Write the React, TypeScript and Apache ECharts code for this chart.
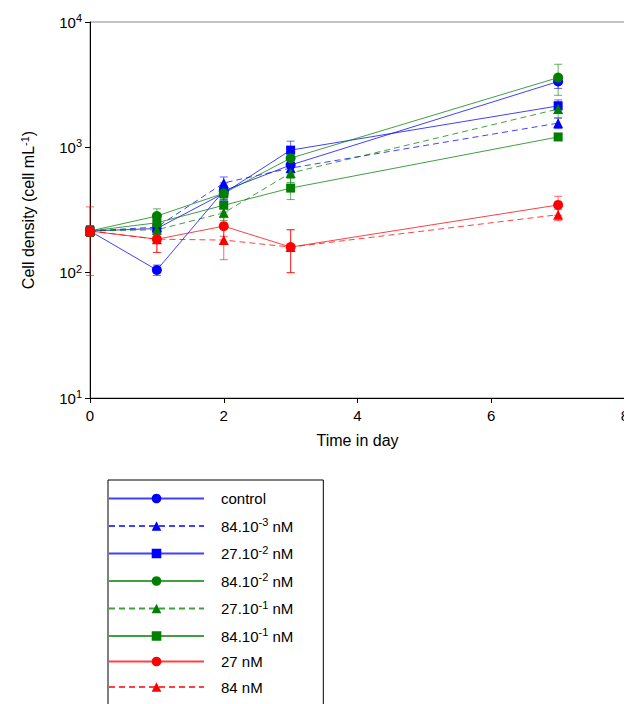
import React, { useEffect, useRef } from "react";
import * as echarts from "echarts";

const days = [0, 1, 2, 3, 7];
const control = [215, 105, 450, 723, 3350];
const c84e3 = [215, 231, 520, 683, 1560];
const c27e2 = [215, 225, 430, 950, 2140];
const c84e2 = [215, 283, 430, 820, 3600];
const c27e1 = [215, 220, 300, 624, 2020];
const c84e1 = [215, 250, 345, 473, 1210];
const c27 = [215, 185, 235, 160, 347];
const c84 = [215, 185, 182, 160, 290];
const errControl = [20, 10, 70, 80, 400];
const err84e3 = [20, 30, 60, 70, 150];
const err27e2 = [20, 30, 50, 170, 250];
const err84e2 = [20, 40, 40, 80, 1000];
const err27e1 = [20, 30, 40, 100, 300];
const err84e1 = [20, 30, 40, 90, 60];
const err27 = [20, 40, 40, 60, 60];
const err84 = [120, 40, 55, 60, 30];

const seriesDefs = [
  { name: "control", data: control, err: errControl, color: "#0000ff", symbol: "circle", dash: false },
  { name: "84.10{s|-3} nM", data: c84e3, err: err84e3, color: "#0000ff", symbol: "triangle", dash: true },
  { name: "27.10{s|-2} nM", data: c27e2, err: err27e2, color: "#0000ff", symbol: "rect", dash: false },
  { name: "84.10{s|-2} nM", data: c84e2, err: err84e2, color: "#008000", symbol: "circle", dash: false },
  { name: "27.10{s|-1} nM", data: c27e1, err: err27e1, color: "#008000", symbol: "triangle", dash: true },
  { name: "84.10{s|-1} nM", data: c84e1, err: err84e1, color: "#008000", symbol: "rect", dash: false },
  { name: "27 nM", data: c27, err: err27, color: "#ff0000", symbol: "circle", dash: false },
  { name: "84 nM", data: c84, err: err84, color: "#ff0000", symbol: "triangle", dash: true },
];

export default function App() {
  const ref = useRef<HTMLDivElement>(null);
  useEffect(() => {
    const chart = echarts.init(ref.current!, null, { renderer: "svg" });
    const series: any[] = [];
    seriesDefs.forEach((s) => {
      series.push({
        type: "custom",
        silent: true,
        z: 1,
        data: days.map((d, i) => [d, s.data[i] - s.err[i], s.data[i] + s.err[i]]),
        renderItem: (params: any, api: any) => {
          const lo = api.coord([api.value(0), api.value(1)]);
          const hi = api.coord([api.value(0), api.value(2)]);
          const st = { stroke: s.color, lineWidth: 1, opacity: 0.6 };
          return {
            type: "group",
            children: [
              { type: "line", shape: { x1: lo[0], y1: lo[1], x2: hi[0], y2: hi[1] }, style: st },
              { type: "line", shape: { x1: lo[0] - 4, y1: lo[1], x2: lo[0] + 4, y2: lo[1] }, style: st },
              { type: "line", shape: { x1: hi[0] - 4, y1: hi[1], x2: hi[0] + 4, y2: hi[1] }, style: st },
            ],
          };
        },
      });
      series.push({
        type: "line",
        name: s.name,
        z: 2,
        data: days.map((d, i) => [d, s.data[i]]),
        symbol: s.symbol,
        symbolSize: s.symbol === "rect" ? 9 : 10,
        itemStyle: { color: s.color },
        lineStyle: { color: s.color, width: 1, type: s.dash ? [6, 4] : "solid", opacity: 0.75 },
      });
    });
    chart.setOption({
      animation: false,
      grid: { left: 82, right: 15, top: 14, bottom: 314, show: true, borderColor: "#888", borderWidth: 1 },
      xAxis: {
        type: "value",
        min: 0,
        max: 8,
        interval: 2,
        name: "Time in day",
        nameLocation: "middle",
        nameGap: 34,
        nameTextStyle: { fontSize: 16, color: "#000", fontFamily: "Liberation Sans" },
        axisLine: { lineStyle: { color: "#000" } },
        axisTick: { lineStyle: { color: "#000" } },
        axisLabel: { fontSize: 15, color: "#000", fontFamily: "Liberation Sans", margin: 10 },
        splitLine: { show: false },
      },
      yAxis: {
        type: "log",
        min: 10,
        max: 10000,
        logBase: 10,
        name: "Cell density (cell mL{s|-1})",
        nameLocation: "middle",
        nameGap: 52,
        nameTextStyle: { fontSize: 16, color: "#000", fontFamily: "Liberation Sans",
          rich: { s: { fontSize: 11, verticalAlign: "top", padding: [0, 0, 8, 0] } } },
        axisLine: { show: true, lineStyle: { color: "#000" } },
        axisTick: { lineStyle: { color: "#000" } },
        axisLabel: {
          fontSize: 15, color: "#000", fontFamily: "Liberation Sans",
          formatter: (v: number) => "10{s|" + Math.round(Math.log10(v)) + "}",
          rich: { s: { fontSize: 11, verticalAlign: "top", padding: [0, 0, 8, 0] } },
        },
        splitLine: { show: false },
      },
      legend: {
        orient: "vertical",
        left: 100,
        top: 472,
        height: 260,
        itemWidth: 95,
        itemHeight: 12,
        itemGap: 10.5,
        padding: [11, 30, 20, 0],
        borderColor: "#000",
        borderWidth: 1,
        data: seriesDefs.map((s) => s.name),
        textStyle: {
          fontSize: 15, color: "#000", fontFamily: "Liberation Sans", padding: [0, 0, 0, 12],
          rich: { s: { fontSize: 11, verticalAlign: "top", padding: [0, 0, 8, 0] } },
        },
      },
      series,
    });
    return () => chart.dispose();
  }, []);
  return <div ref={ref} style={{ width: 632, height: 704 }} />;
}
